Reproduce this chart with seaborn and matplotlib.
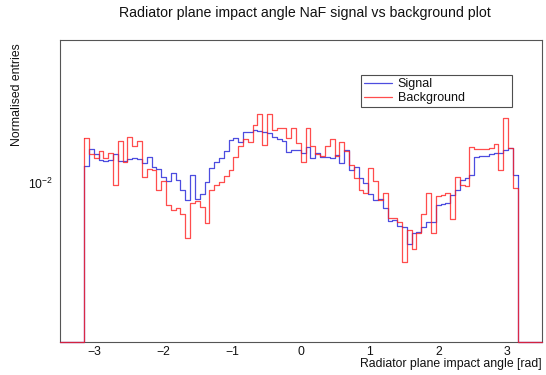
import numpy as np
import pandas as pd
import matplotlib
matplotlib.use("Agg")
import matplotlib.pyplot as plt
import seaborn as sns
from matplotlib.ticker import LogLocator, NullFormatter, MultipleLocator, LogFormatterSciNotation
from matplotlib.lines import Line2D

# ---------------- data ----------------
title = "Radiator plane impact angle NaF signal vs background plot"
x_label = "Radiator plane impact angle [rad]"
y_label = "Normalised entries"
series_names = ["Signal", "Background"]

hist_low, hist_high = -3.15, 3.15     # populated range of the histogram
bin_width = 0.07
axis_low, axis_high = -3.5, 3.5       # full axis range (empty bins outside)
y_low, y_high = 3.25e-3, 2.78e-2

signal = [
    0.01131, 0.01273, 0.01231, 0.01184, 0.01172, 0.01184, 0.01236, 0.01172, 0.01172, 0.01188,
    0.01197, 0.01186, 0.01158, 0.01203, 0.01120, 0.01111, 0.01046, 0.01016, 0.01074, 0.01024,
    0.00954, 0.00888, 0.01059, 0.00894, 0.00927, 0.01009, 0.01119, 0.01166, 0.01197, 0.01258,
    0.01365, 0.01380, 0.01344, 0.01437, 0.01443, 0.01460, 0.01450, 0.01443, 0.01427, 0.01390,
    0.01367, 0.01351, 0.01249, 0.01267, 0.01272, 0.01238, 0.01297, 0.01194, 0.01243, 0.01208,
    0.01208, 0.01194, 0.01223, 0.01153, 0.01267, 0.01099, 0.01125, 0.01036, 0.01004, 0.00927,
    0.00888, 0.00894, 0.00837, 0.00768, 0.00773, 0.00741, 0.00733, 0.00652, 0.00705, 0.00707,
    0.00735, 0.00761, 0.00761, 0.00860, 0.00865, 0.00868, 0.00920, 0.00954, 0.01024, 0.01038,
    0.01061, 0.01206, 0.01214, 0.01218, 0.01231, 0.01240, 0.01243, 0.01267, 0.01282, 0.01061,
]

background = [
    0.01383, 0.01236, 0.01194, 0.01258, 0.01194, 0.01243, 0.00986, 0.01349, 0.01166, 0.01395,
    0.01304, 0.01351, 0.01049, 0.01105, 0.01099, 0.00954, 0.01016, 0.00857, 0.00830, 0.00837,
    0.00804, 0.00678, 0.00872, 0.00880, 0.00847, 0.00754, 0.00956, 0.00988, 0.01009, 0.01053,
    0.01099, 0.01203, 0.01304, 0.01367, 0.01344, 0.01513, 0.01636, 0.01313, 0.01633, 0.01460,
    0.01478, 0.01478, 0.01380, 0.01478, 0.01332, 0.01166, 0.01478, 0.01308, 0.01231, 0.01218,
    0.01304, 0.01375, 0.01218, 0.01338, 0.01262, 0.01139, 0.01038, 0.00954, 0.00933, 0.01112,
    0.01020, 0.00888, 0.00933, 0.00780, 0.00780, 0.00760, 0.00572, 0.00718, 0.00627, 0.00702,
    0.00804, 0.00931, 0.00705, 0.00914, 0.00923, 0.00937, 0.00776, 0.01049, 0.00988, 0.00984,
    0.01297, 0.01276, 0.01276, 0.01276, 0.01285, 0.01320, 0.01099, 0.01596, 0.01282, 0.00971,
]

x_ticks = [-3, -2, -1, 0, 1, 2, 3]

# ---------------- styling ----------------
sns.set_theme(style="white")
plt.rcParams["font.family"] = ["Liberation Sans", "DejaVu Sans"]
plt.rcParams["mathtext.fontset"] = "custom"
plt.rcParams["mathtext.rm"] = "Liberation Sans"

colors = {"Signal": "#2020d8", "Background": "#ff2020"}
frame_color = "#555555"
lw = 0.9

W, H = 546, 375
fig = plt.figure(figsize=(W / 100, H / 100), dpi=100)
ax = fig.add_axes([60 / W, 1 - 341.5 / H, 481.7 / W, 302 / H])

n_bins = int(round((hist_high - hist_low) / bin_width))
edges = np.linspace(hist_low, hist_high, n_bins + 1)
centers = 0.5 * (edges[:-1] + edges[1:])

df = pd.DataFrame({
    "angle": np.concatenate([centers, centers]),
    "weight": np.concatenate([signal, background]),
    "sample": [series_names[0]] * len(signal) + [series_names[1]] * len(background),
})

for name in series_names:
    sub = df[df["sample"] == name].reset_index(drop=True)
    sns.histplot(data=sub, x="angle", weights="weight", bins=n_bins,
                 binrange=(hist_low, hist_high),
                 element="step", fill=False, color=colors[name],
                 linewidth=lw, alpha=0.8, ax=ax)
    vals = sub["weight"].to_numpy()
    # ROOT-style drop to the axis floor at both ends of the populated range
    ax.plot([axis_low, edges[0], edges[0]], [y_low, y_low, vals[0]],
            color=colors[name], lw=lw, alpha=0.8, clip_on=False, zorder=3)
    ax.plot([edges[-1], edges[-1], axis_high], [vals[-1], y_low, y_low],
            color=colors[name], lw=lw, alpha=0.8, clip_on=False, zorder=3)

ax.set_yscale("log")
ax.set_xlim(axis_low, axis_high)
ax.set_ylim(y_low, y_high)
ax.set_xlabel("")
ax.set_ylabel("")

ax.set_xticks(x_ticks)
ax.xaxis.set_minor_locator(MultipleLocator(0.2))
ax.yaxis.set_major_locator(LogLocator(base=10))
ax.yaxis.set_major_formatter(LogFormatterSciNotation())
ax.yaxis.set_minor_locator(LogLocator(base=10, subs=np.arange(2, 10)))
ax.yaxis.set_minor_formatter(NullFormatter())

ax.tick_params(axis="x", which="major", direction="in", length=7.2, width=0.8,
               color=frame_color, labelsize=8.8, pad=3, top=False, labelcolor="#111111")
ax.tick_params(axis="x", which="minor", direction="in", length=3.6, width=0.8,
               color=frame_color, top=False)
ax.tick_params(axis="y", which="major", direction="in", length=10, width=0.8,
               color=frame_color, labelsize=8.8, pad=5, right=False, labelcolor="#111111")
ax.tick_params(axis="y", which="minor", direction="in", length=4.8, width=0.8,
               color=frame_color, right=False)

for sp in ax.spines.values():
    sp.set_visible(True)
    sp.set_color(frame_color)
    sp.set_linewidth(0.8)

fig.text(305 / W, 1 - 13 / H, title, ha="center", va="center", fontsize=10.2, color="#111111")
fig.text(541.7 / W, 1 - 363.5 / H, x_label, ha="right", va="center", fontsize=8.8,
         color="#111111")
fig.text(17 / W, 1 - 43 / H, y_label, ha="center", va="top", rotation=90, fontsize=8.8,
         color="#111111")

handles = [Line2D([], [], color=colors[n], lw=lw, alpha=0.8) for n in series_names]
leg = ax.legend(handles, series_names, loc="lower left",
                bbox_to_anchor=(361 / W, 1 - 107 / H, 151 / W, 33 / H),
                bbox_transform=fig.transFigure, mode="expand",
                fontsize=9, frameon=True, fancybox=False, shadow=False,
                handlelength=2.2, handletextpad=0.5, labelspacing=0.15,
                borderpad=0.25, borderaxespad=0)
leg.get_frame().set_edgecolor("#222222")
leg.get_frame().set_linewidth(0.8)
for t in leg.get_texts():
    t.set_color("#111111")

fig.savefig("out.png", dpi=100)
